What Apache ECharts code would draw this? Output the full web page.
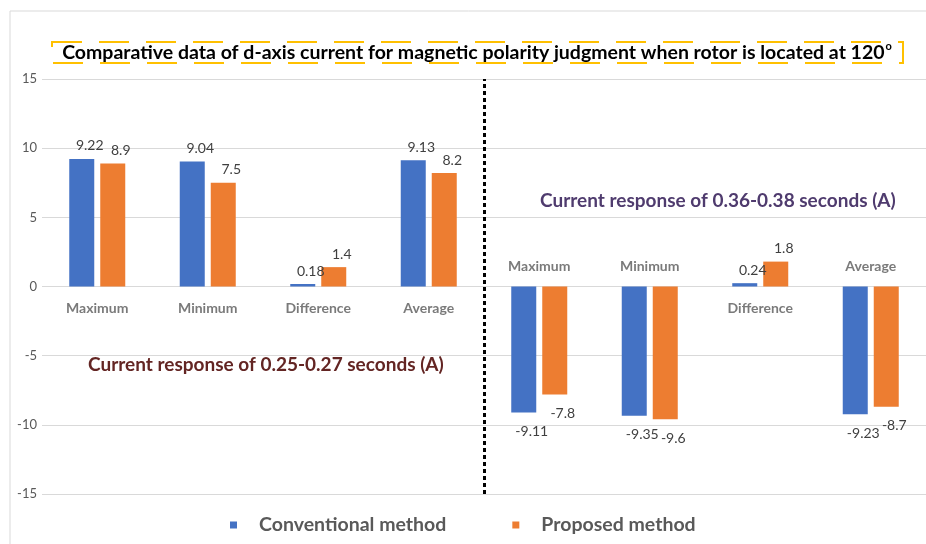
<!DOCTYPE html>
<html>
<head>
<meta charset="utf-8">
<script src="https://cdn.jsdelivr.net/npm/echarts@6/dist/echarts.min.js"></script>
<style>
  html, body { margin: 0; padding: 0; background: #fff; }
  #chart { width: 926px; height: 544px; }
</style>
</head>
<body>
<div id="chart"></div>
<script>
// Categories: first four are the 0.25-0.27 s window, last four the 0.36-0.38 s window
const categories = ['Maximum', 'Minimum', 'Difference', 'Average',
                    'Maximum', 'Minimum', 'Difference', 'Average'];
const conventional = [9.22, 9.04, 0.18, 9.13, -9.11, -9.35, 0.24, -9.23];
const proposed = [8.9, 7.5, 1.4, 8.2, -7.8, -9.6, 1.8, -8.7];
const seriesNames = ['Conventional method', 'Proposed method'];
const yMin = -15, yMax = 15, yStep = 5;
// boundary between the two time windows, in category units
const windowSplit = 3.5;

const titleText = 'Comparative data of d-axis current for magnetic polarity judgment when rotor is located at 120';
const noteLeft = 'Current response of 0.25-0.27 seconds (A)';
const noteRight = 'Current response of 0.36-0.38 seconds (A)';

const FONT = 'Lato, "Open Sans", sans-serif';
const GREY = '#595959';

// A category whose bars all hang below zero gets its name above the zero line
const labelAbove = categories.map((_, i) => conventional[i] < 0 && proposed[i] < 0);

function barData(values) {
  return values.map(v => ({
    value: v,
    label: v < 0 ? { position: 'bottom', distance: 12 } : { position: 'top', distance: 6 }
  }));
}

// Category names sit on the zero line, below it or above it
const nameMarks = categories.map((c, i) => ({
  value: [i, 0],
  name: c,
  label: labelAbove[i] ? { position: 'top', distance: 12 } : { position: 'bottom', distance: 14 }
}));

const chart = echarts.init(document.getElementById('chart'), null, { renderer: 'canvas' });

chart.setOption({
  backgroundColor: '#fff',
  animation: false,
  title: {
    text: '{t|' + titleText + '}{s|o}',
    left: 477,
    textAlign: 'center',
    top: 41,
    padding: 0,
    textStyle: {
      rich: {
        t: { fontFamily: FONT, fontWeight: 'bold', fontSize: 19.5, color: '#000', lineHeight: 24 },
        s: { fontFamily: FONT, fontWeight: 'bold', fontSize: 11, color: '#000', verticalAlign: 'top', lineHeight: 24, padding: [0, 0, 10, 1] }
      }
    }
  },
  legend: {
    data: seriesNames,
    left: 230,
    top: 514,
    padding: 0,
    icon: 'rect',
    itemWidth: 7,
    itemHeight: 7,
    itemGap: 66,
    textStyle: { fontFamily: FONT, fontWeight: 'bold', fontSize: 19.5, color: GREY, lineHeight: 22, padding: [0, 0, 0, 17] }
  },
  grid: { left: 42, right: 0, top: 79, bottom: 50, containLabel: false },
  xAxis: [
    {
      type: 'category',
      data: categories,
      axisLine: { show: false },
      axisTick: { show: false },
      axisLabel: { show: false },
      splitLine: { show: false }
    },
    {
      type: 'value',
      min: -0.5,
      max: categories.length - 0.5,
      show: false
    }
  ],
  yAxis: {
    type: 'value',
    min: yMin, max: yMax, interval: yStep,
    axisLine: { show: false },
    axisTick: { show: false },
    axisLabel: { fontFamily: FONT, fontSize: 13, color: GREY, margin: 5 },
    splitLine: { lineStyle: { color: '#d9d9d9', width: 1 } }
  },
  series: [
    {
      name: seriesNames[0],
      type: 'bar',
      data: barData(conventional),
      barWidth: 25,
      barGap: '24%',
      itemStyle: { color: '#4472C4' },
      label: { show: true, fontFamily: FONT, fontSize: 14, color: '#404040', offset: [8, 0] }
    },
    {
      name: seriesNames[1],
      type: 'bar',
      data: barData(proposed),
      barWidth: 25,
      barGap: '24%',
      itemStyle: { color: '#ED7D31' },
      label: { show: true, fontFamily: FONT, fontSize: 14, color: '#404040', offset: [8, 0] }
    },
    {
      name: 'categoryNames',
      type: 'scatter',
      xAxisIndex: 1,
      data: nameMarks,
      symbolSize: 2,
      itemStyle: { color: 'rgba(0,0,0,0)' },
      silent: true,
      label: {
        show: true,
        formatter: p => p.name,
        fontFamily: FONT, fontWeight: 'bold', fontSize: 14, color: GREY
      },
      markLine: {
        silent: true,
        symbol: 'none',
        label: { show: false },
        lineStyle: { color: '#000', width: 3, type: [4, 3], cap: 'butt' },
        data: [{ xAxis: windowSplit }]
      }
    }
  ],
  graphic: [
    {
      type: 'rect',
      shape: { x: 10, y: 11, width: 930, height: 540 },
      style: { fill: 'none', stroke: '#d9d9d9', lineWidth: 1 },
      silent: true
    },
    {
      type: 'rect',
      shape: { x: 52, y: 42, width: 851, height: 21 },
      style: { fill: 'none', stroke: '#FFC000', lineWidth: 2, lineDash: [30, 17] },
      silent: true,
      z: 10
    },
    {
      type: 'text',
      left: 88, top: 355,
      style: { text: noteLeft, fill: '#632523', font: 'bold 19px ' + FONT }
    },
    {
      type: 'text',
      left: 540, top: 191,
      style: { text: noteRight, fill: '#4F3B6E', font: 'bold 19px ' + FONT }
    }
  ]
});
</script>
</body>
</html>
